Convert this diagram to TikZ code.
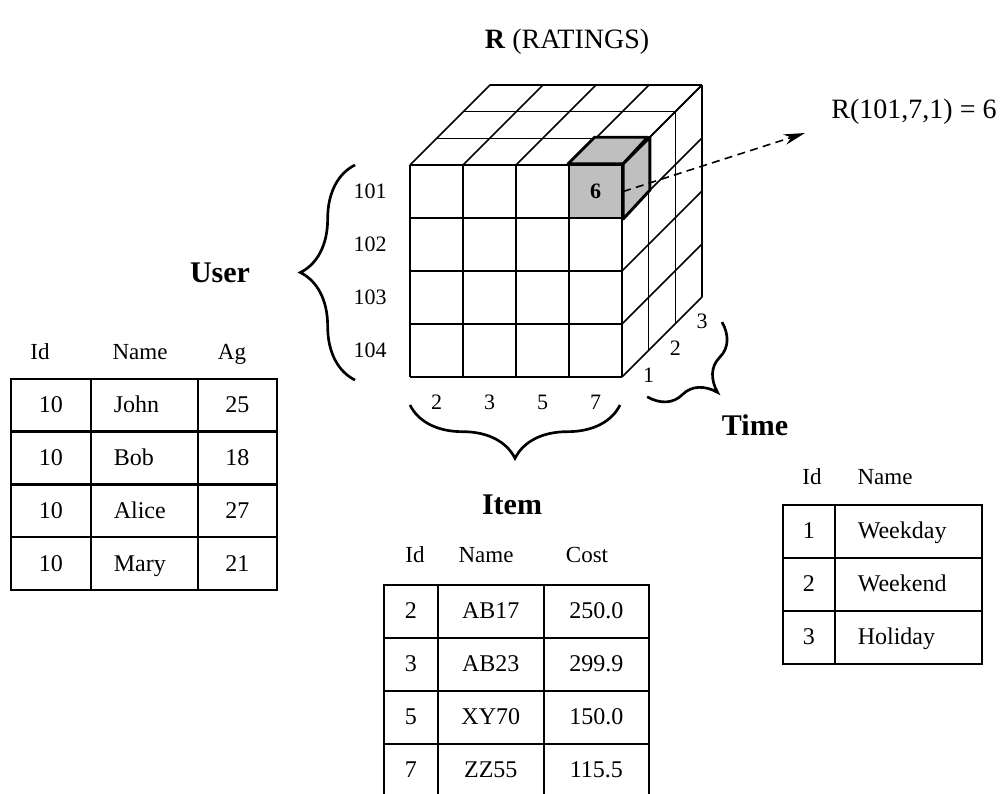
\documentclass[tikz,border=0pt]{standalone}
\usepackage{fontspec}
\setmainfont{Liberation Serif}
\usetikzlibrary{arrows.meta, decorations.pathreplacing}

\newcommand{\cubefont}{\fontsize{22}{26}\selectfont}
\newcommand{\tabfont}{\fontsize{24}{28}\selectfont}
\newcommand{\headfont}{\fontsize{23}{27}\selectfont}
\newcommand{\bigfont}{\fontsize{28}{32}\selectfont}
\newcommand{\axisfont}{\fontsize{30}{34}\selectfont\bfseries}

\tikzset{
  cubeline/.style={line width=1.2pt},
  hitface/.style={draw, fill=black!25, line width=2.2pt, line join=round},
  cell/.style={draw, line width=1.6pt, minimum height=53pt, inner sep=0pt,
    text height=16pt, text depth=1pt, anchor=north west, font=\tabfont},
  namecell/.style={cell, text width=#1, align=left, inner xsep=23pt},
  head/.style={font=\headfont, text height=16pt, text depth=1pt},
  curly/.style={decorate, decoration={brace, amplitude=#1}, line width=2pt},
}

\begin{document}
\begin{tikzpicture}[x=1pt, y=-1pt, scale=0.75, every node/.style={transform shape}]
  \useasboundingbox (0,0) rectangle (1003,793);
  \clip (0,0) rectangle (1003,793);

  \node[font=\bigfont] (title) at (567,42) {\textbf{R} (RATINGS)};

  % cube: front, top and right faces
  \foreach \i in {0,...,4} {
    \draw[cubeline] (410+\i*53,165) -- (410+\i*53,377);
    \draw[cubeline] (410,165+\i*53) -- (622,165+\i*53);
    \draw[cubeline] (410+\i*53,165) -- ++(80,-80);
    \draw[cubeline] (622,165+\i*53) -- ++(80,-80);
  }
  \foreach \k in {1,2,3} {
    \draw[cubeline] (410+\k*26.67,165-\k*26.67) -- ++(212,0);
    \draw[cubeline] (622+\k*26.67,165-\k*26.67) -- ++(0,212);
  }

  % the rated cell
  \node[hitface, minimum size=53pt, inner sep=0pt, font=\cubefont\bfseries] (hit) at (595.5,191.5) {6};
  \filldraw[hitface] (hit.north west) -- ++(26.67,-26.67) -- ++(53,0) -- (hit.north east) -- cycle;
  \filldraw[hitface] (hit.north east) -- ++(26.67,-26.67) -- ++(0,53) -- (hit.south east) -- cycle;

  \node[font=\bigfont] (rlabel) at (914,112) {R(101,7,1) = 6};
  \coordinate (tip) at (805,133);
  \draw[line width=1.2pt, dash pattern=on 6pt off 4pt, -{Stealth[length=16pt, width=8pt]}] (hit.east) -- (tip);

  % axis labels
  \foreach \u [count=\r from 0] in {101,102,103,104}
    \node[font=\cubefont] (user\u) at (370,191.5+\r*53) {\u};
  \foreach \t [count=\c from 0] in {2,3,5,7}
    \node[font=\cubefont] (item\t) at (436.5+\c*53,402) {\t};
  \foreach \k in {1,2,3}
    \node[font=\cubefont] (time\k) at (622+\k*26.67,401.7-\k*26.67) {\k};

  \draw[curly=41pt] (355,380) -- (355,165);
  \draw[curly=40pt] (620,405) -- (410,405);
  \draw[curly=35pt] (722,322) -- (647,397);

  \node[font=\axisfont] (user) at (220,273) {User};
  \node[font=\axisfont] (item) at (512,505) {Item};
  \node[font=\axisfont] (time) at (755,425) {Time};

  % user table
  \foreach \h/\x in {Id/40, Name/140, Ag/232}
    \node[head] (uh-\h) at (\x,352) {\h};
  \foreach \id/\nm/\ag [count=\r from 0] in {10/John/25, 10/Bob/18, 10/Alice/27, 10/Mary/21} {
    \node[cell, minimum width=80pt] (u\r-id) at (10,378+\r*52.75) {\id};
    \node[namecell=61pt] (u\r-nm) at (90,378+\r*52.75) {\nm};
    \node[cell, minimum width=79pt] (u\r-ag) at (197,378+\r*52.75) {\ag};
  }

  % item table
  \foreach \h/\x in {Id/415, Name/486, Cost/587}
    \node[head] (ih-\h) at (\x,555) {\h};
  \foreach \id/\nm/\co [count=\r from 0] in {2/AB17/250.0, 3/AB23/299.9, 5/XY70/150.0, 7/ZZ55/115.5} {
    \node[cell, minimum width=54pt] (i\r-id) at (383,584+\r*53) {\id};
    \node[cell, minimum width=106pt] (i\r-nm) at (437,584+\r*53) {\nm};
    \node[cell, minimum width=105pt] (i\r-co) at (543,584+\r*53) {\co};
  }

  % time table
  \foreach \h/\x in {Id/812, Name/885}
    \node[head] (th-\h) at (\x,477) {\h};
  \foreach \id/\nm [count=\r from 0] in {1/Weekday, 2/Weekend, 3/Holiday} {
    \node[cell, minimum width=52pt] (t\r-id) at (782,504+\r*53) {\id};
    \node[namecell=101pt] (t\r-nm) at (834,504+\r*53) {\nm};
  }
\end{tikzpicture}
\end{document}
